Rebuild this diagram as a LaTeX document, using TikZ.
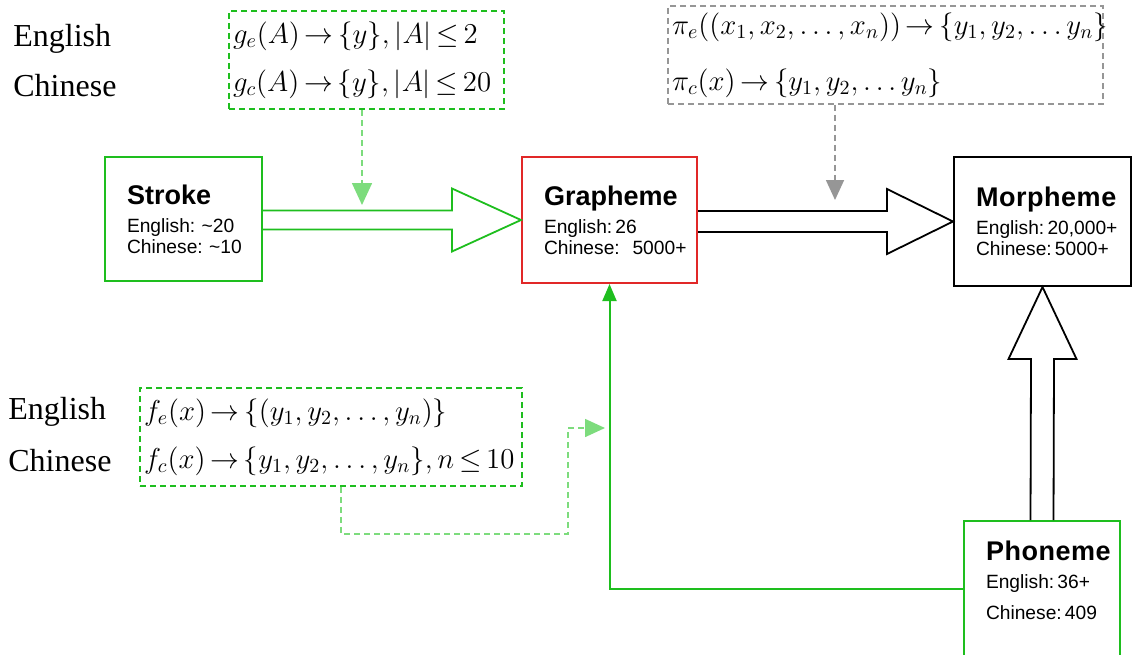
\documentclass[tikz,border=0pt]{standalone}
\usepackage{fontspec}
\setmainfont{Liberation Serif}
\newfontfamily\arialfont{Liberation Sans}
\usetikzlibrary{positioning, arrows.meta, calc}
\definecolor{lgreen}{RGB}{30,190,30}
\definecolor{pgreen}{RGB}{125,220,125}
\definecolor{dgray}{RGB}{150,150,150}
\definecolor{lred}{RGB}{225,40,40}
\newcommand\mathtight{\thickmuskip=3mu\relax\medmuskip=2mu\relax}

\begin{document}
\begin{tikzpicture}[
    x=0.5pt, y=-0.5pt,
    unit/.style={rectangle, draw, line width=1pt, inner xsep=11pt, align=left,
                 font=\arialfont\fontsize{9.6}{10.5}\selectfont},
    fbox/.style={rectangle, draw, dashed, dash pattern=on 3pt off 2pt, line width=0.8pt,
                 inner xsep=2pt, align=left, font=\fontsize{14.4}{24}\selectfont},
    lbl/.style={anchor=west, inner sep=0pt, font=\fontsize{16}{18}\selectfont},
    bigarr/.style={line width=0.9pt, line join=miter},
    feed/.style={line width=0.8pt, dashed, dash pattern=on 3pt off 2pt},
]
\clip (0,0) rectangle (1133,654);
% boxes
\node[unit, draw=lgreen, text width=56.5pt, minimum height=62pt] (stroke) at (183.5,219)
  {{\bfseries\fontsize{13.5}{16}\selectfont Stroke}\\[3.5pt]English:~\textasciitilde20\\Chinese:~\textasciitilde10};
\node[unit, draw=lred, text width=65.5pt, minimum height=63pt] (graph) at (609.5,220)
  {{\bfseries\fontsize{13.5}{16}\selectfont Grapheme}\\[3.5pt]English:\,26\\Chinese:~~5000+};
\node[unit, draw=black, text width=66.5pt, minimum height=64.5pt] (morph) at (1042.5,221.5)
  {{\bfseries\fontsize{13.5}{16}\selectfont\addfontfeatures{LetterSpace=2}Morpheme}\\[3.5pt]English:\,20,000+\\Chinese:\,5000+};
\node[unit, draw=lgreen, text width=56pt, minimum height=67.5pt] (phon) at (1042,588.5)
  {{\bfseries\fontsize{13.5}{16}\selectfont\addfontfeatures{LetterSpace=2}Phoneme}\\[3.5pt]English:\,36+\\[5pt]Chinese:\,409\\[-2.5pt]\mbox{}};
% mapping boxes
\node[fbox, draw=lgreen, text width=133.5pt, minimum height=49pt] (gbox) at (366.5,60)
  {\mathtight\mbox{$g_e\bigl(A\bigr)\rightarrow\{y\},\bigl|A\bigr|\le 2$}\\
   \mbox{$g_c\bigl(A\bigr)\rightarrow\{y\},\bigl|A\bigr|\le 20$}};
\node[fbox, draw=dgray, text width=213.5pt, minimum height=46pt] (pibox) at (885.5,55)
  {\mathtight\mbox{$\pi_e\bigl((x_1,x_2,\ldots,x_n)\bigr)\rightarrow\{y_1,y_2,\ldots y_n\}$}\\[4pt]
   \mbox{$\pi_c(x)\rightarrow\{y_1,y_2,\ldots y_n\}$}};
\node[fbox, draw=lgreen, text width=187pt, minimum height=49pt] (fbox) at (331,437)
  {\mathtight\mbox{$f_e\bigl(x\bigr)\rightarrow\bigl\{(y_1,y_2,\ldots,y_n)\bigr\}$}\\
   \mbox{$f_c\bigl(x\bigr)\rightarrow\{y_1,y_2,\ldots,y_n\},n\le 10$}};
% labels
\node[lbl] (gen) at (13,39) {English};
\node[lbl] (gch) at (13,86) {Chinese};
\node[lbl] (fen) at (8,412) {English};
\node[lbl] (fch) at (8,461) {Chinese};
% block arrows
\draw[bigarr, draw=lgreen] ($(stroke.east |- graph.west)+(0,-9.5)$) -- ($(graph.west)+(-69,-9.5)$)
  -- ($(graph.west)+(-69,-31.5)$) -- (graph.west) -- ($(graph.west)+(-69,31.5)$)
  -- ($(graph.west)+(-69,9.5)$) -- ($(stroke.east |- graph.west)+(0,9.5)$);
\draw[bigarr] ($(graph.east |- morph.west)+(0,-10.5)$) -- ($(morph.west)+(-66,-10.5)$)
  -- ($(morph.west)+(-66,-32.5)$) -- (morph.west) -- ($(morph.west)+(-66,32.5)$)
  -- ($(morph.west)+(-66,10.5)$) -- ($(graph.east |- morph.west)+(0,10.5)$);
\draw[bigarr] ($(phon.north)+(-11.5,0)$) -- ($(morph.south)+(-11.5,72)$)
  -- ($(morph.south)+(-34,72)$) -- (morph.south) -- ($(morph.south)+(34,72)$)
  -- ($(morph.south)+(11.5,72)$) -- ($(phon.north)+(11.5,0)$);
% feeds
\coordinate (gtip) at (362,205);
\coordinate (pitip) at (835,200);
\coordinate (ftip) at (605,428);
\draw[feed, pgreen, -{Triangle[length=11pt, width=10pt]}] (gbox.south -| gtip) -- (gtip);
\draw[feed, dgray, -{Triangle[length=10pt, width=9pt]}] (pibox.south -| pitip) -- (pitip);
\draw[feed, pgreen, -{Triangle[length=10pt, width=9pt]}] ($(fbox.south)+(10,0)$) -- ++(0,47)
  -| ($(ftip)+(-37,0)$) -- (ftip);
\draw[line width=1pt, lgreen, -{Triangle[length=8.5pt, width=7pt]}] (phon.west) -| (graph.south);
\end{tikzpicture}
\end{document}
